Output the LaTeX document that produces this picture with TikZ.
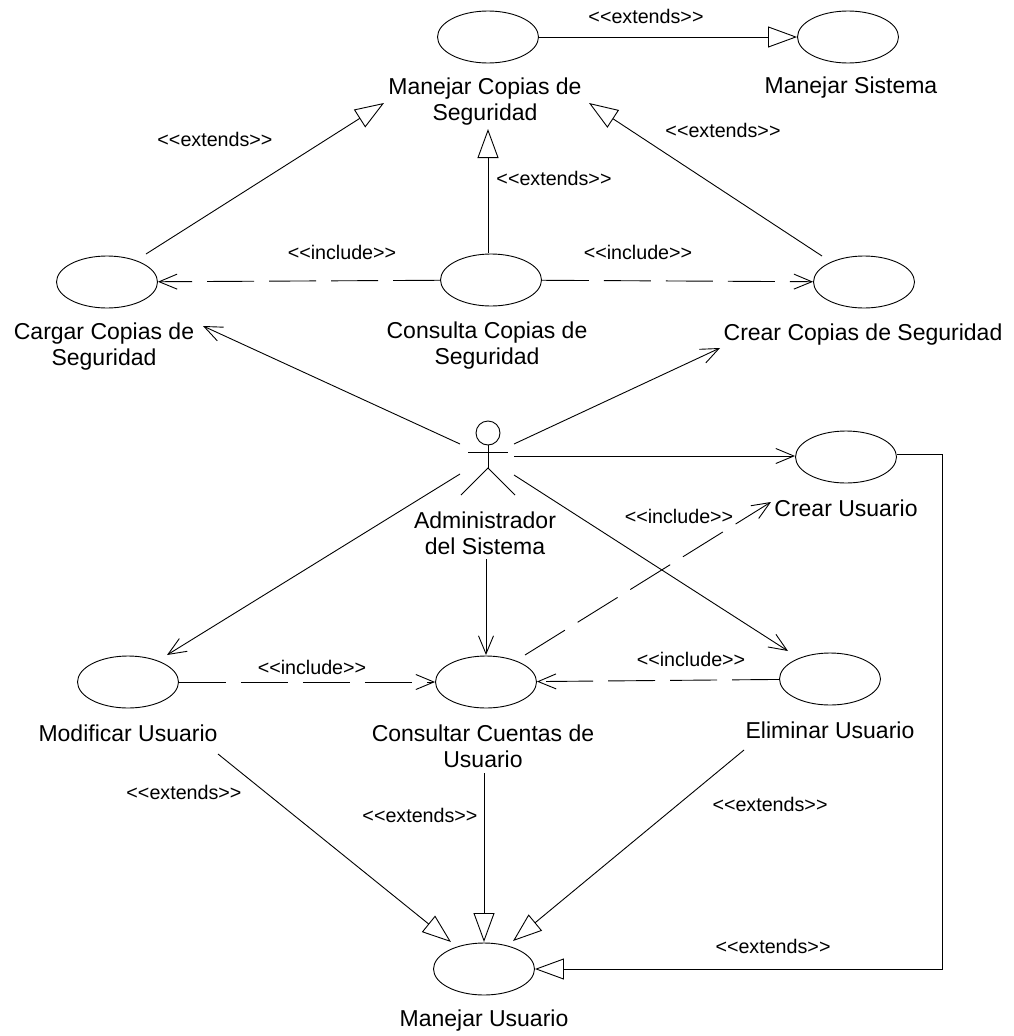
\documentclass[tikz,border=0pt]{standalone}
\usepackage{fontspec}
\setmainfont{Liberation Sans}
\usetikzlibrary{arrows.meta,shapes.geometric}
\newcommand{\extendstext}{{<}{<}extends{>}{>}}
\newcommand{\includetext}{{<}{<}include{>}{>}}
\tikzset{
    usecase/.style={draw,ellipse,minimum width=101pt,minimum height=52pt,inner sep=0pt},
    caselabel/.style={align=center,inner sep=0pt,font=\fontsize{23}{26}\selectfont},
    stereotype/.style={inner sep=0pt,font=\fontsize{19.7}{22}\selectfont},
    extendsline/.style={-{Triangle[open,length=29pt,width=21pt]}},
    assocline/.style={-{Straight Barb[length=18pt,width=15pt]}},
    includeline/.style={assocline,dash pattern=on 47pt off 15pt},
}
\begin{document}
\begin{tikzpicture}[x=1pt,y=-1pt,line width=0.9pt]
    \useasboundingbox (0,0) rectangle (1013,1036);

    % use cases
    \node[usecase] (copias) at (488,37) {};
    \node[usecase] (sistema) at (848,37) {};
    \node[usecase] (cargar) at (107,282) {};
    \node[usecase] (consulta) at (491,280) {};
    \node[usecase] (crearcopias) at (864,282) {};
    \node[usecase] (crearusuario) at (846,457) {};
    \node[usecase] (modificar) at (128,682) {};
    \node[usecase] (cuentas) at (486,682) {};
    \node[usecase] (eliminar) at (830,679) {};
    \node[usecase] (usuario) at (484,969) {};

    % names
    \node[caselabel] (lcopias) at (485,102) {Manejar Copias de\\Seguridad};
    \node[caselabel] (lsistema) at (851,88) {Manejar Sistema};
    \node[caselabel] (lcargar) at (104,347) {Cargar Copias de\\Seguridad};
    \node[caselabel] (lconsulta) at (487,346) {Consulta Copias de\\Seguridad};
    \node[caselabel] (lcrearcopias) at (863,335) {Crear Copias de Seguridad};
    \node[caselabel] (ladmin) at (485,533) {Administrador\\del Sistema};
    \node[caselabel] (lcrearusuario) at (846,508) {Crear Usuario};
    \node[caselabel] (lmodificar) at (128,733) {Modificar Usuario};
    \node[caselabel] (lcuentas) at (483,746) {Consultar Cuentas de\\Usuario};
    \node[caselabel] (leliminar) at (830,730) {Eliminar Usuario};
    \node[caselabel] (lusuario) at (484,1021) {Manejar Usuario};

    % actor
    \node[draw,circle,minimum size=24pt,inner sep=0pt] (cabeza) at (488,433) {};
    \coordinate (cadera) at (488,468);
    \coordinate (brazoa) at (468,452);
    \coordinate (brazob) at (508,452);
    \coordinate (piea) at (461,495);
    \coordinate (pieb) at (515,495);
    \draw (cabeza) -- (cadera);
    \draw (brazoa) -- (brazob);
    \draw (piea) -- (cadera) -- (pieb);

    % free ends
    \coordinate (a1) at (146,254);
    \coordinate (a2) at (384,103);
    \coordinate (b1) at (822,256);
    \coordinate (b2) at (589,103);
    \coordinate (c1) at (488,253);
    \coordinate (c2) at (488,129);
    \coordinate (d1) at (460,444);
    \coordinate (d2) at (203,326);
    \coordinate (e1) at (514,444);
    \coordinate (e2) at (720,348);
    \coordinate (f1) at (514,456);
    \coordinate (f2) at (795,456);
    \coordinate (g1) at (460,474);
    \coordinate (g2) at (167,655);
    \coordinate (h1) at (486,559);
    \coordinate (h2) at (486,655);
    \coordinate (i1) at (514,475);
    \coordinate (i2) at (788,651);
    \coordinate (j1) at (525,655);
    \coordinate (j2) at (771,502);
    \coordinate (k1) at (218,754);
    \coordinate (k2) at (451,942);
    \coordinate (l1) at (484,773);
    \coordinate (l2) at (484,942);
    \coordinate (m1) at (744,750);
    \coordinate (m2) at (513,941);
    \coordinate (n1) at (942,454);
    \coordinate (n2) at (942,969);

    % extends
    \draw[extendsline] (copias) -- (sistema);
    \draw[extendsline] (a1) -- (a2);
    \draw[extendsline] (b1) -- (b2);
    \draw[extendsline] (c1) -- (c2);
    \draw[extendsline] (k1) -- (k2);
    \draw[extendsline] (l1) -- (l2);
    \draw[extendsline] (m1) -- (m2);
    \draw[extendsline] (crearusuario.east |- n1) -- (n1) -- (n2) -- (usuario.east);

    % include
    \draw[includeline] (consulta) -- (cargar);
    \draw[includeline] (consulta) -- (crearcopias);
    \draw[includeline] (j1) -- (j2);
    \draw[includeline] (modificar) -- (cuentas);
    \draw[includeline] (eliminar) -- (cuentas);

    % actor links
    \draw[assocline] (d1) -- (d2);
    \draw[assocline] (e1) -- (e2);
    \draw[assocline] (f1) -- (f2);
    \draw[assocline] (g1) -- (g2);
    \draw[assocline] (h1) -- (h2);
    \draw[assocline] (i1) -- (i2);

    % stereotypes
    \node[stereotype] (s1) at (646,16) {\extendstext};
    \node[stereotype] (s2) at (215,139) {\extendstext};
    \node[stereotype] (s3) at (723,130) {\extendstext};
    \node[stereotype] (s4) at (554,178) {\extendstext};
    \node[stereotype] (s5) at (342,252) {\includetext};
    \node[stereotype] (s6) at (638,252) {\includetext};
    \node[stereotype] (s7) at (679,516) {\includetext};
    \node[stereotype] (s8) at (312,667) {\includetext};
    \node[stereotype] (s9) at (691,659) {\includetext};
    \node[stereotype] (s10) at (184,792) {\extendstext};
    \node[stereotype] (s11) at (420,815) {\extendstext};
    \node[stereotype] (s12) at (770,804) {\extendstext};
    \node[stereotype] (s13) at (773,946) {\extendstext};
\end{tikzpicture}
\end{document}
